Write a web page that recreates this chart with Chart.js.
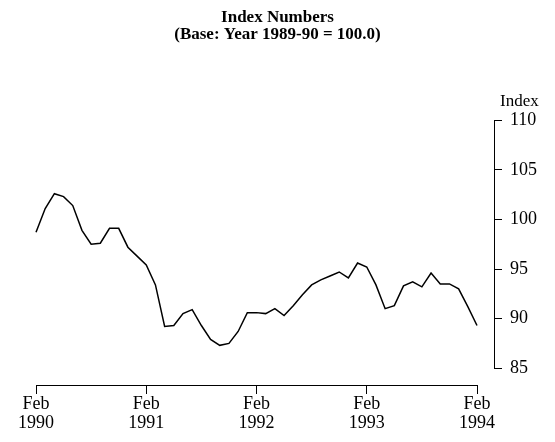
<!DOCTYPE html>
<html>
<head>
<meta charset="utf-8">
<script src="https://cdn.jsdelivr.net/npm/chart.js@4.4.1/dist/chart.umd.min.js"></script>
<style>
  html, body { margin: 0; padding: 0; background: #fff; }
  #wrap { width: 555px; height: 442px; position: relative; }
</style>
</head>
<body>
<div id="wrap"><canvas id="chart"></canvas></div>
<script>
// 标题
const titleLines = ['Index Numbers', '(Base: Year 1989-90 = 100.0)'];
const yAxisName = 'Index';

// 月度指数，Feb 1990 至 Feb 1994
const indexValues = [
  98.7, 101.1, 102.6, 102.3, 101.4, 98.9, 97.5, 97.6, 99.1, 99.1, 97.2, 96.3,
  95.4, 93.4, 89.2, 89.3, 90.5, 90.9, 89.3, 87.9, 87.3, 87.5, 88.7, 90.6,
  90.6, 90.5, 91.0, 90.3, 91.3, 92.4, 93.4, 93.9, 94.3, 94.7, 94.1, 95.6,
  95.2, 93.4, 91.0, 91.3, 93.3, 93.7, 93.2, 94.6, 93.5, 93.5, 93.0, 91.2,
  89.3
];

// x 轴刻度（月序号）及标签
const xTickPositions = [0, 12, 24, 36, 48];
const xTickMonths = ['Feb', 'Feb', 'Feb', 'Feb', 'Feb'];
const xTickYears = ['1990', '1991', '1992', '1993', '1994'];

// y 轴刻度
const yTicks = [85, 90, 95, 100, 105, 110];

const serif = '"Liberation Serif", "DejaVu Serif", serif';

// 自定义坐标轴线（两轴分离）
const axisLines = {
  id: 'axisLines',
  afterDraw(chart) {
    const { ctx, scales: { x, y }, chartArea } = chart;
    ctx.save();
    ctx.strokeStyle = '#000';
    ctx.lineWidth = 1;
    // y 轴
    const yx = Math.round(chartArea.right) + 0.5;
    ctx.beginPath();
    ctx.moveTo(yx, y.getPixelForValue(yTicks[yTicks.length - 1]));
    ctx.lineTo(yx, y.getPixelForValue(yTicks[0]));
    ctx.stroke();
    // x 轴
    const xy = Math.round(chartArea.bottom) + 0.5;
    ctx.beginPath();
    ctx.moveTo(x.getPixelForValue(xTickPositions[0]), xy);
    ctx.lineTo(x.getPixelForValue(xTickPositions[xTickPositions.length - 1]), xy);
    ctx.stroke();
    // 轴名称
    ctx.fillStyle = '#000';
    ctx.font = '17px ' + serif;
    ctx.textAlign = 'left';
    ctx.textBaseline = 'middle';
    ctx.fillText(yAxisName, chartArea.right + 6, y.getPixelForValue(yTicks[yTicks.length - 1]) - 19);
    ctx.restore();
  }
};

const ctx = document.getElementById('chart').getContext('2d');
new Chart(ctx, {
  type: 'line',
  data: {
    datasets: [{
      data: indexValues.map((v, i) => ({ x: i, y: v })),
      borderColor: '#000',
      borderWidth: 1.5,
      pointRadius: 0,
      tension: 0,
      fill: false,
    }]
  },
  options: {
    responsive: true,
    maintainAspectRatio: false,
    animation: false,
    layout: { padding: 0 },
    plugins: {
      legend: { display: false },
      tooltip: { enabled: false },
      title: {
        display: true,
        text: titleLines,
        color: '#000',
        font: { family: serif, size: 17, weight: 'bold', lineHeight: 0.95 },
        padding: { top: 10, bottom: 78 },
      }
    },
    scales: {
      x: {
        type: 'linear',
        min: -3.92,
        max: 49.85,
        afterBuildTicks: (scale) => {
          scale.ticks = xTickPositions.map(v => ({ value: v }));
        },
        afterFit: (scale) => { scale.height = 57; },
        border: { display: false },
        grid: { drawOnChartArea: false, drawTicks: true, tickLength: 9, color: '#000' },
        ticks: {
          color: '#000',
          autoSkip: false,
          maxRotation: 0,
          padding: 0,
          font: { family: serif, size: 18, lineHeight: 1.1 },
          callback: (v) => {
            const i = xTickPositions.indexOf(v);
            return i >= 0 ? [xTickMonths[i], xTickYears[i]] : '';
          }
        }
      },
      y: {
        position: 'right',
        min: 83.3,
        max: 110,
        afterBuildTicks: (scale) => {
          scale.ticks = yTicks.map(v => ({ value: v }));
        },
        afterFit: (scale) => { scale.width = 61; },
        border: { display: false },
        grid: { drawOnChartArea: false, drawTicks: true, tickLength: 8, color: '#000' },
        ticks: {
          color: '#000',
          padding: 8,
          font: { family: serif, size: 18 },
        }
      }
    }
  },
  plugins: [axisLines]
});
</script>
</body>
</html>
